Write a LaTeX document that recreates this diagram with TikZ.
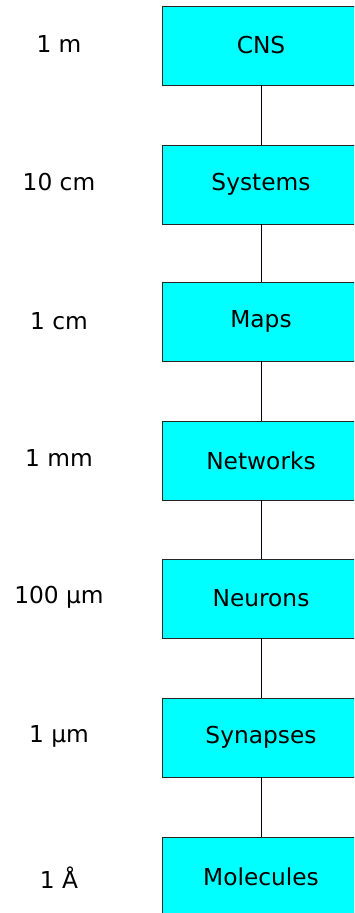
\documentclass[tikz,border=0pt]{standalone}
\usepackage{fontspec}
\setmainfont{DejaVu Sans}
\definecolor{boxcyan}{RGB}{0,255,255}
\begin{document}
\begin{tikzpicture}[x=1pt,y=-1pt,
  lvl/.style={draw=black!85, line width=0.8pt, fill=boxcyan, minimum width=198pt, minimum height=79pt, inner sep=0pt, font=\fontsize{23.3}{27}\selectfont},
  scl/.style={font=\fontsize{23.3}{27}\selectfont, inner sep=0pt},
  link/.style={draw=black!90!blue, line width=0.8pt}]
\useasboundingbox (0,0) rectangle (354,913);
\clip (0,0) rectangle (354,913);
\node[lvl] (cns) at (261,45.5) {CNS};
\node[lvl] (sys) at (261,184.5) {Systems};
\node[lvl] (map) at (261,321.5) {Maps};
\node[lvl] (net) at (261,460.5) {Networks};
\node[lvl] (neu) at (261,598.5) {Neurons};
\node[lvl] (syn) at (261,737.5) {Synapses};
\node[lvl] (mol) at (261,876.5) {Molecules};
\draw[link] (cns.south) -- (sys.north);
\draw[link] (sys.south) -- (map.north);
\draw[link] (map.south) -- (net.north);
\draw[link] (net.south) -- (neu.north);
\draw[link] (neu.south) -- (syn.north);
\draw[link] (syn.south) -- (mol.north);
\node[scl] (s1) at (59,44) {1 m};
\node[scl] (s2) at (59,182) {10 cm};
\node[scl] (s3) at (59,321) {1 cm};
\node[scl] (s4) at (59,458) {1 mm};
\node[scl] (s5) at (59,597) {100 µm};
\node[scl] (s6) at (59,736) {1 µm};
\node[scl] (s7) at (59,878) {1 Å};
\end{tikzpicture}
\end{document}
